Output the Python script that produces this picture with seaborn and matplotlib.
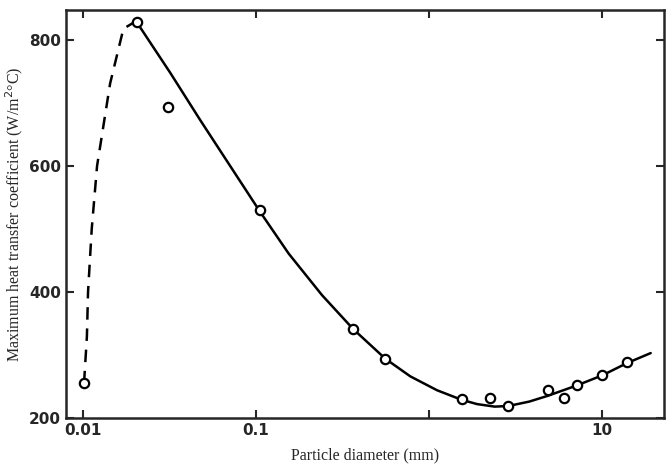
import matplotlib
matplotlib.use('Agg')
import matplotlib.pyplot as plt
import seaborn as sns

# measured points (particle diameter mm, max heat transfer coeff W/m2C)
pt_d = [0.0102, 0.0206, 0.0312, 0.106, 0.366, 0.561, 1.56, 2.26, 2.87, 4.86, 6.01, 7.19, 10.0, 13.9]
pt_h = [255, 828, 693, 530, 341, 294, 230, 232, 219, 245, 232, 253, 268, 289]

# dashed branch (small particles)
dash_d = [0.0102, 0.0106, 0.01076, 0.0113, 0.01213, 0.01443, 0.01722, 0.0201]
dash_h = [255, 330, 400, 500, 600, 731, 818, 829]

# solid fitted curve
curve_d = [0.0201, 0.0206, 0.0321, 0.0478, 0.1062, 0.155, 0.2415, 0.366, 0.561,
           0.782, 1.115, 1.54, 1.90, 2.4, 2.88, 3.8, 4.84, 7.21, 10.1, 13.9, 19.1]
curve_h = [829, 828, 748, 673, 527, 461, 395, 341, 294,
           266, 244, 229, 222, 218, 219, 226, 235, 252, 268, 287, 303]

xticks = [0.01, 0.1, 1, 10]
xtick_labels = ['0.01', '0.1', '', '10']
yticks = [200, 400, 600, 800]

sns.set_style('ticks')
plt.rcParams['font.family'] = ['Liberation Serif', 'DejaVu Serif']

fig = plt.figure(figsize=(6.67, 4.67), dpi=100)
ax = fig.add_axes([0.099, 0.105, 0.897, 0.874])

sns.lineplot(x=dash_d, y=dash_h, ax=ax, color='black', lw=1.8,
             linestyle=(0, (5, 3.5)), sort=False)
sns.lineplot(x=curve_d, y=curve_h, ax=ax, color='black', lw=1.8, sort=False)
sns.scatterplot(x=pt_d, y=pt_h, ax=ax, marker='o', s=45, facecolor='white',
                edgecolor='black', linewidth=1.6, zorder=5)

ax.set_xscale('log')
ax.set_xlim(0.00803, 22.9)
ax.set_ylim(200, 848)
ax.set_xticks(xticks)
ax.set_xticklabels(xtick_labels)
ax.minorticks_off()
ax.set_yticks(yticks)
ax.tick_params(direction='in', top=True, right=True, length=6, width=1.5,
               labelsize=11)
for lab in ax.get_xticklabels() + ax.get_yticklabels():
    lab.set_fontfamily('DejaVu Sans')
    lab.set_fontweight('bold')
for sp in ax.spines.values():
    sp.set_linewidth(1.8)

ax.set_xlabel('Particle diameter (mm)', fontsize=11.5, labelpad=7)
ax.set_ylabel('Maximum heat transfer coefficient (W/m$^2$°C)', fontsize=11.5,
              labelpad=3)

fig.savefig('out.png', dpi=100)
